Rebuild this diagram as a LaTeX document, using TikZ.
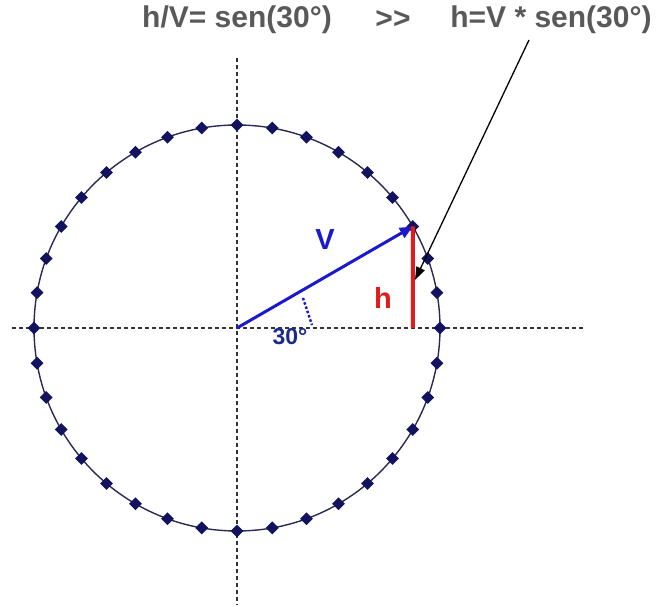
\documentclass[tikz,border=0pt]{standalone}
\usepackage{fontspec}
\setmainfont{Liberation Sans}
\usepackage{xcolor}
\usetikzlibrary{arrows.meta, shapes.geometric}

\definecolor{textgray}{HTML}{595959}
\definecolor{rimnavy}{HTML}{2A2A55}
\definecolor{dotnavy}{HTML}{12125E}
\definecolor{vecblue}{HTML}{1A1ACC}
\definecolor{angblue}{HTML}{1C2A8A}
\definecolor{hred}{HTML}{E01B1B}

\begin{document}
\begin{tikzpicture}[
  x=1pt, y=1pt,
  axis/.style={line width=1.7pt, draw=black!80, dash pattern=on 4pt off 3pt},
  rim/.style={line width=1.4pt, draw=rimnavy},
  dot/.style={diamond, fill=dotnavy, inner sep=0pt, minimum size=13pt},
  formula/.style={font=\fontsize{30}{35}\selectfont\bfseries, text=textgray},
  vec/.style={-{Triangle[length=13pt, width=11pt]}, line width=3pt, draw=vecblue},
  height/.style={line width=4pt, draw=hred},
  pointer/.style={-{Triangle[length=13pt, width=9pt]}, line width=1.3pt, draw=black}
]
\useasboundingbox (-237,-279) rectangle (420,328);

% axes
\draw[axis] (-225,0) -- (348,0);
\draw[axis] (0,270) -- (0,-277);

% circle with its marks
\draw[rim] (0,0) circle (203);
\foreach \a in {0,10,...,350}
  \node[dot] (d\a) at (\a:203) {};

% vector and its height
\coordinate (O) at (0,0);
\coordinate (P) at (30:203);
\coordinate (F) at (175.8,0);
\draw[vec] (O) -- (P);
\draw[height] (P) -- (F);
\draw[line width=2.5pt, draw=vecblue, dotted] (66,30) -- (75,3);

\node[font=\fontsize{29}{34}\selectfont\bfseries, text=vecblue] (vlab) at (88,88) {V};
\node[font=\fontsize{29}{34}\selectfont\bfseries, text=hred] (hlab) at (146,30) {h};
\node[font=\fontsize{23}{27}\selectfont\bfseries, text=angblue] (alab) at (53,-9) {30°};

% formulas on top
\node[formula] (ratio) at (0,308) {h/V= sen(30°)};
\node[formula] (then) at (156,308) {{>}{>}};
\node[formula] (rhs) at (314,308) {h=V * sen(30°)};

\coordinate (ptr) at (292,288);
\coordinate (hmid) at (178,48);
\draw[pointer] (ptr) -- (hmid);

\end{tikzpicture}
\end{document}
